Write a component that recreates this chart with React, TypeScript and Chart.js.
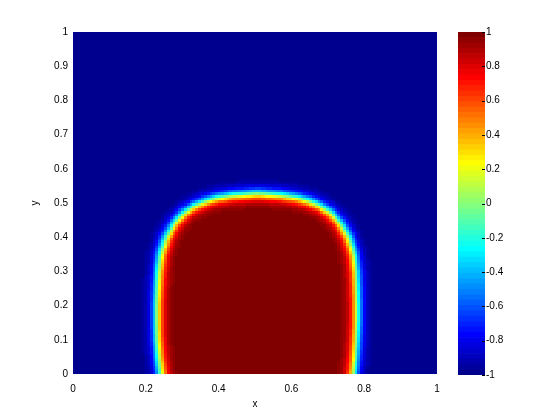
import React, { useEffect, useRef } from "react";
import { Chart, registerables } from "chart.js";

Chart.register(...registerables);

// ---- data ----
const xTickValues = [0, 0.2, 0.4, 0.6, 0.8, 1];
const yTickValues = [0, 0.1, 0.2, 0.3, 0.4, 0.5, 0.6, 0.7, 0.8, 0.9, 1];
const colorbarTickValues = [-1, -0.8, -0.6, -0.4, -0.2, 0, 0.2, 0.4, 0.6, 0.8, 1];
const xTitle = "x";
const yTitle = "y";

// zero-level contour of the field (interface between -1 and +1)
const contourY = [0, 0.05, 0.1, 0.15, 0.2, 0.25, 0.3, 0.35, 0.4, 0.44, 0.47, 0.49, 0.505, 0.515, 0.522];
const contourLeftX = [0.242, 0.236, 0.232, 0.231, 0.231, 0.233, 0.236, 0.242, 0.257, 0.279, 0.305, 0.333, 0.365, 0.398, 0.44];
const contourRightX = [0.77, 0.775, 0.778, 0.78, 0.78, 0.779, 0.777, 0.771, 0.756, 0.734, 0.708, 0.68, 0.648, 0.615, 0.573];
const contourTop = [0.507, 0.527]; // [x, y]
const insideValue = 1;
const outsideValue = -1;
const interfaceWidth = 0.021; // tanh profile width across the interface
const gridSize = 128;
const colormapSize = 64;

// ---- helpers ----
function jet(m: number): string[] {
  const n = Math.ceil(m / 4);
  const u: number[] = [];
  for (let i = 1; i <= n; i++) u.push(i / n);
  for (let i = 1; i < n; i++) u.push(1);
  for (let i = n; i >= 1; i--) u.push(i / n);
  const g0 = Math.ceil(n / 2) - (m % 4 === 1 ? 1 : 0);
  const J = Array.from({ length: m }, () => [0, 0, 0]);
  for (let k = 0; k < u.length; k++) {
    const gi = g0 + k + 1;
    const ri = gi + n;
    const bi = gi - n;
    if (gi >= 1 && gi <= m) J[gi - 1][1] = u[k];
    if (ri >= 1 && ri <= m) J[ri - 1][0] = u[k];
    if (bi >= 1 && bi <= m) J[bi - 1][2] = u[k];
  }
  return J.map(
    (c) => `rgb(${Math.round(c[0] * 255)},${Math.round(c[1] * 255)},${Math.round(c[2] * 255)})`
  );
}

function buildPolygon(): [number, number][] {
  const pts: [number, number][] = [];
  pts.push([contourLeftX[0], -0.3]);
  for (let i = 0; i < contourY.length; i++) pts.push([contourLeftX[i], contourY[i]]);
  pts.push([contourTop[0], contourTop[1]]);
  for (let i = contourY.length - 1; i >= 0; i--) pts.push([contourRightX[i], contourY[i]]);
  pts.push([contourRightX[0], -0.3]);
  return pts;
}

function segDist(px: number, py: number, ax: number, ay: number, bx: number, by: number) {
  const dx = bx - ax;
  const dy = by - ay;
  const l2 = dx * dx + dy * dy;
  let t = l2 > 0 ? ((px - ax) * dx + (py - ay) * dy) / l2 : 0;
  t = Math.max(0, Math.min(1, t));
  const qx = ax + t * dx - px;
  const qy = ay + t * dy - py;
  return Math.sqrt(qx * qx + qy * qy);
}

function buildField(): number[][] {
  const poly = buildPolygon();
  const field: number[][] = [];
  for (let j = 0; j < gridSize; j++) {
    const row: number[] = [];
    const py = (j + 0.5) / gridSize;
    for (let i = 0; i < gridSize; i++) {
      const px = (i + 0.5) / gridSize;
      let d = Infinity;
      let inside = false;
      for (let k = 0, l = poly.length - 1; k < poly.length; l = k++) {
        const [ax, ay] = poly[k];
        const [bx, by] = poly[l];
        d = Math.min(d, segDist(px, py, ax, ay, bx, by));
        if (ay > py !== by > py && px < ((bx - ax) * (py - ay)) / (by - ay) + ax) inside = !inside;
      }
      const s = inside ? d : -d;
      const t = Math.tanh(s / interfaceWidth);
      row.push(outsideValue + ((t + 1) / 2) * (insideValue - outsideValue));
    }
    field.push(row);
  }
  return field;
}

const FONT = { family: "'Liberation Sans', Arial, Helvetica, sans-serif", size: 10 };
const fmt = (v: any) => String(Math.round(Number(v) * 10) / 10);

export default function App() {
  const mainRef = useRef<HTMLCanvasElement>(null);
  const cbRef = useRef<HTMLCanvasElement>(null);

  useEffect(() => {
    const colors = jet(colormapSize);
    const field = buildField();
    const colorIndex = (v: number) =>
      Math.max(0, Math.min(colormapSize - 1, Math.floor(((v - outsideValue) / (insideValue - outsideValue)) * colormapSize)));

    const heatmapPlugin = {
      id: "heatmapCells",
      beforeDatasetsDraw(chart: any) {
        const { ctx, chartArea } = chart;
        const xs = chart.scales.x;
        const ys = chart.scales.y;
        ctx.save();
        ctx.beginPath();
        ctx.rect(chartArea.left, chartArea.top, chartArea.right - chartArea.left, chartArea.bottom - chartArea.top);
        ctx.clip();
        for (let j = 0; j < gridSize; j++) {
          const y0 = Math.round(ys.getPixelForValue((j + 1) / gridSize));
          const y1 = Math.round(ys.getPixelForValue(j / gridSize));
          for (let i = 0; i < gridSize; i++) {
            const x0 = Math.round(xs.getPixelForValue(i / gridSize));
            const x1 = Math.round(xs.getPixelForValue((i + 1) / gridSize));
            ctx.fillStyle = colors[colorIndex(field[j][i])];
            ctx.fillRect(x0, y0, x1 - x0, y1 - y0);
          }
        }
        ctx.restore();
      },
    };

    const mainChart = new Chart(mainRef.current!, {
      type: "scatter",
      data: { datasets: [{ data: [], pointRadius: 0 }] },
      options: {
        animation: false,
        responsive: false,
        events: [],
        layout: { padding: { left: 0, top: 32, right: 123, bottom: 0 } },
        plugins: { legend: { display: false }, tooltip: { enabled: false } },
        scales: {
          x: {
            type: "linear",
            min: 0,
            max: 1,
            afterBuildTicks: (s: any) => {
              s.ticks = xTickValues.map((v) => ({ value: v }));
            },
            afterFit: (s: any) => {
              s.height = 46;
            },
            grid: { display: false, drawTicks: false },
            border: { display: false },
            ticks: { font: FONT, color: "#000", padding: 9, maxRotation: 0, autoSkip: false, callback: fmt },
            title: { display: true, text: xTitle, font: FONT, color: "#000", padding: { top: 0, bottom: 10 } },
          },
          y: {
            type: "linear",
            min: 0,
            max: 1,
            afterBuildTicks: (s: any) => {
              s.ticks = yTickValues.map((v) => ({ value: v }));
            },
            afterFit: (s: any) => {
              s.width = 73;
            },
            grid: { display: false, drawTicks: false },
            border: { display: false },
            ticks: { font: FONT, color: "#000", padding: 5, autoSkip: false, callback: fmt },
            title: { display: true, text: yTitle, font: FONT, color: "#000", padding: { top: 29, bottom: 0 } },
          },
        },
      },
      plugins: [heatmapPlugin],
    } as any);

    const step = (insideValue - outsideValue) / colormapSize;
    const cbDatasets = colors.map((c, k) => ({
      data: [[outsideValue + k * step, outsideValue + (k + 1) * step]],
      backgroundColor: c,
      borderWidth: 0,
      grouped: false,
      barPercentage: 1,
      categoryPercentage: 1,
    }));

    const cbTicksPlugin = {
      id: "cbTicks",
      afterDraw(chart: any) {
        const { ctx, chartArea } = chart;
        const ys = chart.scales.y;
        ctx.save();
        ctx.strokeStyle = "#000";
        ctx.lineWidth = 1;
        ctx.beginPath();
        for (const v of colorbarTickValues) {
          const py = Math.round(ys.getPixelForValue(v)) + 0.5;
          ctx.moveTo(chartArea.right - 3, py);
          ctx.lineTo(chartArea.right, py);
        }
        ctx.stroke();
        ctx.restore();
      },
    };

    const cbChart = new Chart(cbRef.current!, {
      type: "bar",
      data: { labels: [""], datasets: cbDatasets },
      options: {
        animation: false,
        responsive: false,
        events: [],
        layout: { padding: { left: 458, top: 32, right: 35, bottom: 45 } },
        plugins: { legend: { display: false }, tooltip: { enabled: false } },
        scales: {
          x: { display: false },
          y: {
            position: "right",
            min: -1,
            max: 1,
            afterBuildTicks: (s: any) => {
              s.ticks = colorbarTickValues.map((v) => ({ value: v }));
            },
            afterFit: (s: any) => {
              s.width = 40;
            },
            grid: { display: false, drawTicks: false },
            border: { display: false },
            ticks: { font: FONT, color: "#000", padding: 1, autoSkip: false, callback: fmt },
          },
        },
      },
      plugins: [cbTicksPlugin],
    } as any);

    return () => {
      mainChart.destroy();
      cbChart.destroy();
    };
  }, []);

  return (
    <div style={{ position: "absolute", left: 0, top: 0, width: 560, height: 420, background: "#fff" }}>
      <canvas ref={mainRef} width={560} height={420} style={{ position: "absolute", left: 0, top: 0 }} />
      <canvas ref={cbRef} width={560} height={420} style={{ position: "absolute", left: 0, top: 0 }} />
    </div>
  );
}
